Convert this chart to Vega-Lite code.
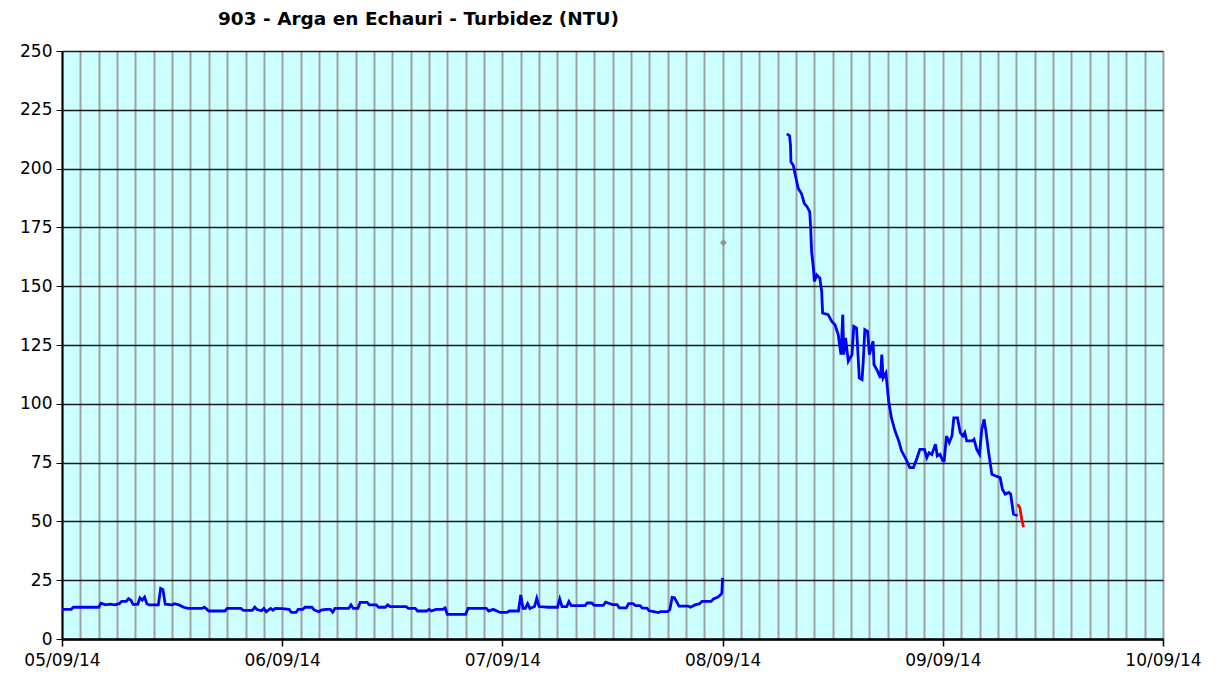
{
  "$schema": "https://vega.github.io/schema/vega-lite/v6.json",
  "width": 1101,
  "height": 588,
  "autosize": {"type": "none"},
  "padding": {"left": 62, "top": 51, "right": 59, "bottom": 40},
  "background": "white",
  "title": {
    "text": "903 - Arga en Echauri - Turbidez (NTU)",
    "font": "DejaVu Sans",
    "fontSize": 18.5,
    "fontWeight": "bold",
    "color": "black",
    "anchor": "start",
    "frame": "group",
    "dx": 156,
    "offset": 14
  },
  "config": {
    "view": {"fill": "#CCFFFF", "stroke": null},
    "axis": {"labelFont": "DejaVu Sans", "labelColor": "black"}
  },
  "data": {
    "values": [
      {"t": "2014-09-05T00:00:00Z", "v": 12.6, "serie": "validado", "tramo": 1},
      {"t": "2014-09-05T01:00:00Z", "v": 12.6, "serie": "validado", "tramo": 1},
      {"t": "2014-09-05T01:15:00Z", "v": 13.5, "serie": "validado", "tramo": 1},
      {"t": "2014-09-05T04:00:00Z", "v": 13.5, "serie": "validado", "tramo": 1},
      {"t": "2014-09-05T04:15:00Z", "v": 15.2, "serie": "validado", "tramo": 1},
      {"t": "2014-09-05T04:45:00Z", "v": 14.5, "serie": "validado", "tramo": 1},
      {"t": "2014-09-05T05:15:00Z", "v": 14.8, "serie": "validado", "tramo": 1},
      {"t": "2014-09-05T05:45:00Z", "v": 14.5, "serie": "validado", "tramo": 1},
      {"t": "2014-09-05T06:15:00Z", "v": 15.0, "serie": "validado", "tramo": 1},
      {"t": "2014-09-05T06:30:00Z", "v": 16.0, "serie": "validado", "tramo": 1},
      {"t": "2014-09-05T07:00:00Z", "v": 16.0, "serie": "validado", "tramo": 1},
      {"t": "2014-09-05T07:15:00Z", "v": 17.2, "serie": "validado", "tramo": 1},
      {"t": "2014-09-05T07:30:00Z", "v": 16.5, "serie": "validado", "tramo": 1},
      {"t": "2014-09-05T07:45:00Z", "v": 14.7, "serie": "validado", "tramo": 1},
      {"t": "2014-09-05T08:15:00Z", "v": 14.7, "serie": "validado", "tramo": 1},
      {"t": "2014-09-05T08:30:00Z", "v": 17.5, "serie": "validado", "tramo": 1},
      {"t": "2014-09-05T08:45:00Z", "v": 16.5, "serie": "validado", "tramo": 1},
      {"t": "2014-09-05T09:00:00Z", "v": 17.8, "serie": "validado", "tramo": 1},
      {"t": "2014-09-05T09:15:00Z", "v": 15.0, "serie": "validado", "tramo": 1},
      {"t": "2014-09-05T09:30:00Z", "v": 14.5, "serie": "validado", "tramo": 1},
      {"t": "2014-09-05T10:30:00Z", "v": 14.5, "serie": "validado", "tramo": 1},
      {"t": "2014-09-05T10:45:00Z", "v": 21.5, "serie": "validado", "tramo": 1},
      {"t": "2014-09-05T11:00:00Z", "v": 21.0, "serie": "validado", "tramo": 1},
      {"t": "2014-09-05T11:15:00Z", "v": 14.8, "serie": "validado", "tramo": 1},
      {"t": "2014-09-05T12:00:00Z", "v": 14.5, "serie": "validado", "tramo": 1},
      {"t": "2014-09-05T12:15:00Z", "v": 15.0, "serie": "validado", "tramo": 1},
      {"t": "2014-09-05T12:45:00Z", "v": 14.5, "serie": "validado", "tramo": 1},
      {"t": "2014-09-05T13:15:00Z", "v": 13.5, "serie": "validado", "tramo": 1},
      {"t": "2014-09-05T13:45:00Z", "v": 13.0, "serie": "validado", "tramo": 1},
      {"t": "2014-09-05T15:15:00Z", "v": 13.0, "serie": "validado", "tramo": 1},
      {"t": "2014-09-05T15:30:00Z", "v": 13.5, "serie": "validado", "tramo": 1},
      {"t": "2014-09-05T15:45:00Z", "v": 12.8, "serie": "validado", "tramo": 1},
      {"t": "2014-09-05T16:00:00Z", "v": 11.9, "serie": "validado", "tramo": 1},
      {"t": "2014-09-05T17:45:00Z", "v": 11.9, "serie": "validado", "tramo": 1},
      {"t": "2014-09-05T18:00:00Z", "v": 13.0, "serie": "validado", "tramo": 1},
      {"t": "2014-09-05T19:30:00Z", "v": 13.0, "serie": "validado", "tramo": 1},
      {"t": "2014-09-05T19:45:00Z", "v": 12.2, "serie": "validado", "tramo": 1},
      {"t": "2014-09-05T20:45:00Z", "v": 12.2, "serie": "validado", "tramo": 1},
      {"t": "2014-09-05T21:00:00Z", "v": 13.5, "serie": "validado", "tramo": 1},
      {"t": "2014-09-05T21:15:00Z", "v": 12.5, "serie": "validado", "tramo": 1},
      {"t": "2014-09-05T21:45:00Z", "v": 12.0, "serie": "validado", "tramo": 1},
      {"t": "2014-09-05T22:00:00Z", "v": 13.0, "serie": "validado", "tramo": 1},
      {"t": "2014-09-05T22:15:00Z", "v": 11.6, "serie": "validado", "tramo": 1},
      {"t": "2014-09-05T22:45:00Z", "v": 13.0, "serie": "validado", "tramo": 1},
      {"t": "2014-09-05T23:00:00Z", "v": 12.2, "serie": "validado", "tramo": 1},
      {"t": "2014-09-05T23:15:00Z", "v": 13.0, "serie": "validado", "tramo": 1},
      {"t": "2014-09-06T00:00:00Z", "v": 12.9, "serie": "validado", "tramo": 1},
      {"t": "2014-09-06T00:45:00Z", "v": 12.6, "serie": "validado", "tramo": 1},
      {"t": "2014-09-06T01:00:00Z", "v": 11.3, "serie": "validado", "tramo": 1},
      {"t": "2014-09-06T01:30:00Z", "v": 11.3, "serie": "validado", "tramo": 1},
      {"t": "2014-09-06T01:45:00Z", "v": 12.6, "serie": "validado", "tramo": 1},
      {"t": "2014-09-06T02:15:00Z", "v": 12.6, "serie": "validado", "tramo": 1},
      {"t": "2014-09-06T02:30:00Z", "v": 13.5, "serie": "validado", "tramo": 1},
      {"t": "2014-09-06T03:15:00Z", "v": 13.5, "serie": "validado", "tramo": 1},
      {"t": "2014-09-06T03:30:00Z", "v": 12.3, "serie": "validado", "tramo": 1},
      {"t": "2014-09-06T04:00:00Z", "v": 11.6, "serie": "validado", "tramo": 1},
      {"t": "2014-09-06T04:15:00Z", "v": 12.3, "serie": "validado", "tramo": 1},
      {"t": "2014-09-06T04:45:00Z", "v": 12.6, "serie": "validado", "tramo": 1},
      {"t": "2014-09-06T05:15:00Z", "v": 12.6, "serie": "validado", "tramo": 1},
      {"t": "2014-09-06T05:30:00Z", "v": 11.4, "serie": "validado", "tramo": 1},
      {"t": "2014-09-06T05:45:00Z", "v": 13.0, "serie": "validado", "tramo": 1},
      {"t": "2014-09-06T07:15:00Z", "v": 13.0, "serie": "validado", "tramo": 1},
      {"t": "2014-09-06T07:30:00Z", "v": 14.5, "serie": "validado", "tramo": 1},
      {"t": "2014-09-06T07:45:00Z", "v": 13.0, "serie": "validado", "tramo": 1},
      {"t": "2014-09-06T08:15:00Z", "v": 13.0, "serie": "validado", "tramo": 1},
      {"t": "2014-09-06T08:30:00Z", "v": 15.6, "serie": "validado", "tramo": 1},
      {"t": "2014-09-06T09:15:00Z", "v": 15.6, "serie": "validado", "tramo": 1},
      {"t": "2014-09-06T09:30:00Z", "v": 14.5, "serie": "validado", "tramo": 1},
      {"t": "2014-09-06T10:15:00Z", "v": 14.5, "serie": "validado", "tramo": 1},
      {"t": "2014-09-06T10:30:00Z", "v": 13.5, "serie": "validado", "tramo": 1},
      {"t": "2014-09-06T11:15:00Z", "v": 13.5, "serie": "validado", "tramo": 1},
      {"t": "2014-09-06T11:30:00Z", "v": 14.5, "serie": "validado", "tramo": 1},
      {"t": "2014-09-06T11:45:00Z", "v": 13.8, "serie": "validado", "tramo": 1},
      {"t": "2014-09-06T13:30:00Z", "v": 13.8, "serie": "validado", "tramo": 1},
      {"t": "2014-09-06T13:45:00Z", "v": 13.0, "serie": "validado", "tramo": 1},
      {"t": "2014-09-06T14:30:00Z", "v": 13.0, "serie": "validado", "tramo": 1},
      {"t": "2014-09-06T14:45:00Z", "v": 11.9, "serie": "validado", "tramo": 1},
      {"t": "2014-09-06T15:45:00Z", "v": 11.9, "serie": "validado", "tramo": 1},
      {"t": "2014-09-06T16:00:00Z", "v": 12.6, "serie": "validado", "tramo": 1},
      {"t": "2014-09-06T16:15:00Z", "v": 11.9, "serie": "validado", "tramo": 1},
      {"t": "2014-09-06T16:45:00Z", "v": 12.6, "serie": "validado", "tramo": 1},
      {"t": "2014-09-06T17:30:00Z", "v": 12.6, "serie": "validado", "tramo": 1},
      {"t": "2014-09-06T17:45:00Z", "v": 13.2, "serie": "validado", "tramo": 1},
      {"t": "2014-09-06T18:00:00Z", "v": 10.5, "serie": "validado", "tramo": 1},
      {"t": "2014-09-06T20:00:00Z", "v": 10.5, "serie": "validado", "tramo": 1},
      {"t": "2014-09-06T20:15:00Z", "v": 13.0, "serie": "validado", "tramo": 1},
      {"t": "2014-09-06T22:15:00Z", "v": 13.0, "serie": "validado", "tramo": 1},
      {"t": "2014-09-06T22:30:00Z", "v": 11.9, "serie": "validado", "tramo": 1},
      {"t": "2014-09-06T23:00:00Z", "v": 12.6, "serie": "validado", "tramo": 1},
      {"t": "2014-09-06T23:45:00Z", "v": 11.3, "serie": "validado", "tramo": 1},
      {"t": "2014-09-07T00:30:00Z", "v": 11.3, "serie": "validado", "tramo": 1},
      {"t": "2014-09-07T00:45:00Z", "v": 11.9, "serie": "validado", "tramo": 1},
      {"t": "2014-09-07T01:45:00Z", "v": 11.9, "serie": "validado", "tramo": 1},
      {"t": "2014-09-07T02:00:00Z", "v": 18.7, "serie": "validado", "tramo": 1},
      {"t": "2014-09-07T02:15:00Z", "v": 13.0, "serie": "validado", "tramo": 1},
      {"t": "2014-09-07T02:30:00Z", "v": 13.0, "serie": "validado", "tramo": 1},
      {"t": "2014-09-07T02:45:00Z", "v": 15.0, "serie": "validado", "tramo": 1},
      {"t": "2014-09-07T03:00:00Z", "v": 13.0, "serie": "validado", "tramo": 1},
      {"t": "2014-09-07T03:30:00Z", "v": 13.8, "serie": "validado", "tramo": 1},
      {"t": "2014-09-07T03:45:00Z", "v": 17.3, "serie": "validado", "tramo": 1},
      {"t": "2014-09-07T04:00:00Z", "v": 13.8, "serie": "validado", "tramo": 1},
      {"t": "2014-09-07T05:00:00Z", "v": 13.5, "serie": "validado", "tramo": 1},
      {"t": "2014-09-07T06:00:00Z", "v": 13.5, "serie": "validado", "tramo": 1},
      {"t": "2014-09-07T06:15:00Z", "v": 17.0, "serie": "validado", "tramo": 1},
      {"t": "2014-09-07T06:30:00Z", "v": 13.8, "serie": "validado", "tramo": 1},
      {"t": "2014-09-07T07:00:00Z", "v": 13.8, "serie": "validado", "tramo": 1},
      {"t": "2014-09-07T07:15:00Z", "v": 15.9, "serie": "validado", "tramo": 1},
      {"t": "2014-09-07T07:30:00Z", "v": 14.2, "serie": "validado", "tramo": 1},
      {"t": "2014-09-07T09:00:00Z", "v": 14.2, "serie": "validado", "tramo": 1},
      {"t": "2014-09-07T09:15:00Z", "v": 15.3, "serie": "validado", "tramo": 1},
      {"t": "2014-09-07T09:45:00Z", "v": 15.3, "serie": "validado", "tramo": 1},
      {"t": "2014-09-07T10:00:00Z", "v": 14.3, "serie": "validado", "tramo": 1},
      {"t": "2014-09-07T11:00:00Z", "v": 14.3, "serie": "validado", "tramo": 1},
      {"t": "2014-09-07T11:15:00Z", "v": 15.7, "serie": "validado", "tramo": 1},
      {"t": "2014-09-07T11:45:00Z", "v": 15.0, "serie": "validado", "tramo": 1},
      {"t": "2014-09-07T12:00:00Z", "v": 14.6, "serie": "validado", "tramo": 1},
      {"t": "2014-09-07T12:30:00Z", "v": 14.6, "serie": "validado", "tramo": 1},
      {"t": "2014-09-07T12:45:00Z", "v": 13.2, "serie": "validado", "tramo": 1},
      {"t": "2014-09-07T13:30:00Z", "v": 13.2, "serie": "validado", "tramo": 1},
      {"t": "2014-09-07T13:45:00Z", "v": 15.0, "serie": "validado", "tramo": 1},
      {"t": "2014-09-07T14:15:00Z", "v": 15.0, "serie": "validado", "tramo": 1},
      {"t": "2014-09-07T14:30:00Z", "v": 14.2, "serie": "validado", "tramo": 1},
      {"t": "2014-09-07T15:00:00Z", "v": 14.2, "serie": "validado", "tramo": 1},
      {"t": "2014-09-07T15:15:00Z", "v": 13.1, "serie": "validado", "tramo": 1},
      {"t": "2014-09-07T15:45:00Z", "v": 13.1, "serie": "validado", "tramo": 1},
      {"t": "2014-09-07T16:00:00Z", "v": 12.0, "serie": "validado", "tramo": 1},
      {"t": "2014-09-07T16:30:00Z", "v": 11.6, "serie": "validado", "tramo": 1},
      {"t": "2014-09-07T17:00:00Z", "v": 11.2, "serie": "validado", "tramo": 1},
      {"t": "2014-09-07T17:15:00Z", "v": 11.6, "serie": "validado", "tramo": 1},
      {"t": "2014-09-07T18:00:00Z", "v": 11.6, "serie": "validado", "tramo": 1},
      {"t": "2014-09-07T18:15:00Z", "v": 12.5, "serie": "validado", "tramo": 1},
      {"t": "2014-09-07T18:30:00Z", "v": 17.7, "serie": "validado", "tramo": 1},
      {"t": "2014-09-07T18:45:00Z", "v": 17.5, "serie": "validado", "tramo": 1},
      {"t": "2014-09-07T19:00:00Z", "v": 15.8, "serie": "validado", "tramo": 1},
      {"t": "2014-09-07T19:15:00Z", "v": 14.0, "serie": "validado", "tramo": 1},
      {"t": "2014-09-07T20:15:00Z", "v": 14.0, "serie": "validado", "tramo": 1},
      {"t": "2014-09-07T20:30:00Z", "v": 13.5, "serie": "validado", "tramo": 1},
      {"t": "2014-09-07T21:00:00Z", "v": 14.5, "serie": "validado", "tramo": 1},
      {"t": "2014-09-07T21:30:00Z", "v": 15.0, "serie": "validado", "tramo": 1},
      {"t": "2014-09-07T21:45:00Z", "v": 16.0, "serie": "validado", "tramo": 1},
      {"t": "2014-09-07T22:45:00Z", "v": 16.0, "serie": "validado", "tramo": 1},
      {"t": "2014-09-07T23:00:00Z", "v": 17.0, "serie": "validado", "tramo": 1},
      {"t": "2014-09-07T23:30:00Z", "v": 17.8, "serie": "validado", "tramo": 1},
      {"t": "2014-09-07T23:45:00Z", "v": 18.7, "serie": "validado", "tramo": 1},
      {"t": "2014-09-07T23:55:00Z", "v": 19.5, "serie": "validado", "tramo": 1},
      {"t": "2014-09-08T00:00:00Z", "v": 26.0, "serie": "validado", "tramo": 1},
      {"t": "2014-09-08T00:05:00Z", "v": 168.5, "serie": "puntual", "tramo": 0},
      {"t": "2014-09-08T07:00:00Z", "v": 214.8, "serie": "validado", "tramo": 2},
      {"t": "2014-09-08T07:18:00Z", "v": 214.0, "serie": "validado", "tramo": 2},
      {"t": "2014-09-08T07:24:00Z", "v": 209.9, "serie": "validado", "tramo": 2},
      {"t": "2014-09-08T07:27:00Z", "v": 202.8, "serie": "validado", "tramo": 2},
      {"t": "2014-09-08T07:42:00Z", "v": 201.4, "serie": "validado", "tramo": 2},
      {"t": "2014-09-08T08:00:00Z", "v": 195.8, "serie": "validado", "tramo": 2},
      {"t": "2014-09-08T08:15:00Z", "v": 191.5, "serie": "validado", "tramo": 2},
      {"t": "2014-09-08T08:36:00Z", "v": 189.4, "serie": "validado", "tramo": 2},
      {"t": "2014-09-08T08:54:00Z", "v": 185.2, "serie": "validado", "tramo": 2},
      {"t": "2014-09-08T09:12:00Z", "v": 183.8, "serie": "validado", "tramo": 2},
      {"t": "2014-09-08T09:30:00Z", "v": 181.6, "serie": "validado", "tramo": 2},
      {"t": "2014-09-08T09:36:00Z", "v": 174.6, "serie": "validado", "tramo": 2},
      {"t": "2014-09-08T09:42:00Z", "v": 164.7, "serie": "validado", "tramo": 2},
      {"t": "2014-09-08T09:54:00Z", "v": 157.6, "serie": "validado", "tramo": 2},
      {"t": "2014-09-08T10:00:00Z", "v": 152.0, "serie": "validado", "tramo": 2},
      {"t": "2014-09-08T10:15:00Z", "v": 154.8, "serie": "validado", "tramo": 2},
      {"t": "2014-09-08T10:36:00Z", "v": 153.4, "serie": "validado", "tramo": 2},
      {"t": "2014-09-08T10:48:00Z", "v": 147.7, "serie": "validado", "tramo": 2},
      {"t": "2014-09-08T10:54:00Z", "v": 138.6, "serie": "validado", "tramo": 2},
      {"t": "2014-09-08T11:30:00Z", "v": 137.9, "serie": "validado", "tramo": 2},
      {"t": "2014-09-08T11:54:00Z", "v": 135.0, "serie": "validado", "tramo": 2},
      {"t": "2014-09-08T12:15:00Z", "v": 133.6, "serie": "validado", "tramo": 2},
      {"t": "2014-09-08T12:36:00Z", "v": 129.4, "serie": "validado", "tramo": 2},
      {"t": "2014-09-08T12:54:00Z", "v": 120.9, "serie": "validado", "tramo": 2},
      {"t": "2014-09-08T13:06:00Z", "v": 137.9, "serie": "validado", "tramo": 2},
      {"t": "2014-09-08T13:12:00Z", "v": 120.9, "serie": "validado", "tramo": 2},
      {"t": "2014-09-08T13:24:00Z", "v": 128.0, "serie": "validado", "tramo": 2},
      {"t": "2014-09-08T13:42:00Z", "v": 118.1, "serie": "validado", "tramo": 2},
      {"t": "2014-09-08T14:06:00Z", "v": 120.9, "serie": "validado", "tramo": 2},
      {"t": "2014-09-08T14:18:00Z", "v": 132.9, "serie": "validado", "tramo": 2},
      {"t": "2014-09-08T14:36:00Z", "v": 132.2, "serie": "validado", "tramo": 2},
      {"t": "2014-09-08T14:54:00Z", "v": 111.0, "serie": "validado", "tramo": 2},
      {"t": "2014-09-08T15:12:00Z", "v": 110.3, "serie": "validado", "tramo": 2},
      {"t": "2014-09-08T15:21:00Z", "v": 119.5, "serie": "validado", "tramo": 2},
      {"t": "2014-09-08T15:30:00Z", "v": 131.5, "serie": "validado", "tramo": 2},
      {"t": "2014-09-08T15:48:00Z", "v": 130.8, "serie": "validado", "tramo": 2},
      {"t": "2014-09-08T16:00:00Z", "v": 120.9, "serie": "validado", "tramo": 2},
      {"t": "2014-09-08T16:24:00Z", "v": 126.6, "serie": "validado", "tramo": 2},
      {"t": "2014-09-08T16:30:00Z", "v": 116.7, "serie": "validado", "tramo": 2},
      {"t": "2014-09-08T16:54:00Z", "v": 113.8, "serie": "validado", "tramo": 2},
      {"t": "2014-09-08T17:12:00Z", "v": 111.0, "serie": "validado", "tramo": 2},
      {"t": "2014-09-08T17:21:00Z", "v": 120.9, "serie": "validado", "tramo": 2},
      {"t": "2014-09-08T17:30:00Z", "v": 111.0, "serie": "validado", "tramo": 2},
      {"t": "2014-09-08T17:48:00Z", "v": 113.1, "serie": "validado", "tramo": 2},
      {"t": "2014-09-08T18:06:00Z", "v": 101.1, "serie": "validado", "tramo": 2},
      {"t": "2014-09-08T18:24:00Z", "v": 94.0, "serie": "validado", "tramo": 2},
      {"t": "2014-09-08T18:48:00Z", "v": 88.4, "serie": "validado", "tramo": 2},
      {"t": "2014-09-08T19:12:00Z", "v": 84.2, "serie": "validado", "tramo": 2},
      {"t": "2014-09-08T19:30:00Z", "v": 80.0, "serie": "validado", "tramo": 2},
      {"t": "2014-09-08T20:00:00Z", "v": 76.4, "serie": "validado", "tramo": 2},
      {"t": "2014-09-08T20:24:00Z", "v": 72.9, "serie": "validado", "tramo": 2},
      {"t": "2014-09-08T20:48:00Z", "v": 72.9, "serie": "validado", "tramo": 2},
      {"t": "2014-09-08T21:12:00Z", "v": 77.1, "serie": "validado", "tramo": 2},
      {"t": "2014-09-08T21:30:00Z", "v": 80.6, "serie": "validado", "tramo": 2},
      {"t": "2014-09-08T22:00:00Z", "v": 80.6, "serie": "validado", "tramo": 2},
      {"t": "2014-09-08T22:15:00Z", "v": 77.1, "serie": "validado", "tramo": 2},
      {"t": "2014-09-08T22:30:00Z", "v": 79.2, "serie": "validado", "tramo": 2},
      {"t": "2014-09-08T22:48:00Z", "v": 78.5, "serie": "validado", "tramo": 2},
      {"t": "2014-09-08T23:12:00Z", "v": 82.8, "serie": "validado", "tramo": 2},
      {"t": "2014-09-08T23:24:00Z", "v": 77.8, "serie": "validado", "tramo": 2},
      {"t": "2014-09-08T23:42:00Z", "v": 78.5, "serie": "validado", "tramo": 2},
      {"t": "2014-09-09T00:00:00Z", "v": 75.7, "serie": "validado", "tramo": 2},
      {"t": "2014-09-09T00:09:00Z", "v": 75.7, "serie": "validado", "tramo": 2},
      {"t": "2014-09-09T00:24:00Z", "v": 86.3, "serie": "validado", "tramo": 2},
      {"t": "2014-09-09T00:42:00Z", "v": 83.5, "serie": "validado", "tramo": 2},
      {"t": "2014-09-09T01:00:00Z", "v": 86.3, "serie": "validado", "tramo": 2},
      {"t": "2014-09-09T01:12:00Z", "v": 94.0, "serie": "validado", "tramo": 2},
      {"t": "2014-09-09T01:36:00Z", "v": 94.0, "serie": "validado", "tramo": 2},
      {"t": "2014-09-09T01:54:00Z", "v": 87.7, "serie": "validado", "tramo": 2},
      {"t": "2014-09-09T02:12:00Z", "v": 86.3, "serie": "validado", "tramo": 2},
      {"t": "2014-09-09T02:24:00Z", "v": 87.7, "serie": "validado", "tramo": 2},
      {"t": "2014-09-09T02:36:00Z", "v": 84.2, "serie": "validado", "tramo": 2},
      {"t": "2014-09-09T03:12:00Z", "v": 84.2, "serie": "validado", "tramo": 2},
      {"t": "2014-09-09T03:24:00Z", "v": 84.9, "serie": "validado", "tramo": 2},
      {"t": "2014-09-09T03:42:00Z", "v": 80.6, "serie": "validado", "tramo": 2},
      {"t": "2014-09-09T04:00:00Z", "v": 78.5, "serie": "validado", "tramo": 2},
      {"t": "2014-09-09T04:15:00Z", "v": 89.1, "serie": "validado", "tramo": 2},
      {"t": "2014-09-09T04:30:00Z", "v": 93.4, "serie": "validado", "tramo": 2},
      {"t": "2014-09-09T04:42:00Z", "v": 88.4, "serie": "validado", "tramo": 2},
      {"t": "2014-09-09T05:00:00Z", "v": 79.2, "serie": "validado", "tramo": 2},
      {"t": "2014-09-09T05:21:00Z", "v": 70.0, "serie": "validado", "tramo": 2},
      {"t": "2014-09-09T05:42:00Z", "v": 69.4, "serie": "validado", "tramo": 2},
      {"t": "2014-09-09T06:15:00Z", "v": 68.6, "serie": "validado", "tramo": 2},
      {"t": "2014-09-09T06:30:00Z", "v": 63.7, "serie": "validado", "tramo": 2},
      {"t": "2014-09-09T06:48:00Z", "v": 61.6, "serie": "validado", "tramo": 2},
      {"t": "2014-09-09T07:12:00Z", "v": 62.3, "serie": "validado", "tramo": 2},
      {"t": "2014-09-09T07:24:00Z", "v": 61.6, "serie": "validado", "tramo": 2},
      {"t": "2014-09-09T07:42:00Z", "v": 53.1, "serie": "validado", "tramo": 2},
      {"t": "2014-09-09T08:09:00Z", "v": 52.4, "serie": "validado", "tramo": 2},
      {"t": "2014-09-09T08:09:00Z", "v": 57.3, "serie": "provisional", "tramo": 3},
      {"t": "2014-09-09T08:24:00Z", "v": 55.9, "serie": "provisional", "tramo": 3},
      {"t": "2014-09-09T08:36:00Z", "v": 51.0, "serie": "provisional", "tramo": 3},
      {"t": "2014-09-09T08:48:00Z", "v": 47.5, "serie": "provisional", "tramo": 3}
    ]
  },
  "encoding": {
    "y": {
      "field": "v",
      "type": "quantitative",
      "scale": {"domain": [0, 250], "nice": false},
      "axis": {
        "title": null,
        "values": [0, 25, 50, 75, 100, 125, 150, 175, 200, 225, 250],
        "labelFontSize": 17,
        "labelPadding": 4,
        "tickSize": 6,
        "tickColor": "black",
        "gridColor": "#1A1A1A",
        "gridWidth": 1.5,
        "domainColor": "black",
        "domainWidth": 2
      }
    }
  },
  "resolve": {"axis": {"x": "independent"}},
  "layer": [
    {
      "transform": [{"filter": "datum.serie != 'puntual'"}],
      "mark": {"type": "line", "strokeWidth": 2.8},
      "encoding": {
        "x": {
          "field": "t",
          "type": "temporal",
          "scale": {"type": "utc", "domain": ["2014-09-05T00:00:00Z", "2014-09-10T00:00:00Z"], "nice": false},
          "axis": {
            "title": null,
            "orient": "bottom",
            "values": [1409875200000, 1409882400000, 1409889600000, 1409896800000, 1409904000000, 1409911200000, 1409918400000, 1409925600000, 1409932800000, 1409940000000, 1409947200000, 1409954400000, 1409961600000, 1409968800000, 1409976000000, 1409983200000, 1409990400000, 1409997600000, 1410004800000, 1410012000000, 1410019200000, 1410026400000, 1410033600000, 1410040800000, 1410048000000, 1410055200000, 1410062400000, 1410069600000, 1410076800000, 1410084000000, 1410091200000, 1410098400000, 1410105600000, 1410112800000, 1410120000000, 1410127200000, 1410134400000, 1410141600000, 1410148800000, 1410156000000, 1410163200000, 1410170400000, 1410177600000, 1410184800000, 1410192000000, 1410199200000, 1410206400000, 1410213600000, 1410220800000, 1410228000000, 1410235200000, 1410242400000, 1410249600000, 1410256800000, 1410264000000, 1410271200000, 1410278400000, 1410285600000, 1410292800000, 1410300000000, 1410307200000],
            "labels": false,
            "ticks": false,
            "gridColor": "#A0A0A0",
            "gridWidth": 2,
            "domainColor": "black",
            "domainWidth": 2
          }
        },
        "color": {"field": "serie", "type": "nominal", "scale": {"domain": ["validado", "provisional"], "range": ["#0000FF", "#FF0000"]}, "legend": null},
        "detail": {"field": "tramo", "type": "nominal"}
      }
    },
    {
      "transform": [{"filter": "datum.serie == 'puntual'"}],
      "mark": {"type": "point", "shape": "diamond", "filled": true, "color": "#909090", "size": 45, "opacity": 1},
      "encoding": {
        "x": {
          "field": "t",
          "type": "temporal",
          "axis": {
            "title": null,
            "orient": "bottom",
            "values": [1409875200000, 1409961600000, 1410048000000, 1410134400000, 1410220800000, 1410307200000],
            "format": "%d/%m/%y",
            "labelFontSize": 17,
            "labelPadding": 6,
            "labelFlush": false,
            "tickColor": "black",
            "tickSize": 7,
            "tickWidth": 1.5,
            "gridColor": "#000000",
            "gridWidth": 1.5,
            "domainColor": "black",
            "domainWidth": 2
          }
        }
      }
    }
  ]
}
